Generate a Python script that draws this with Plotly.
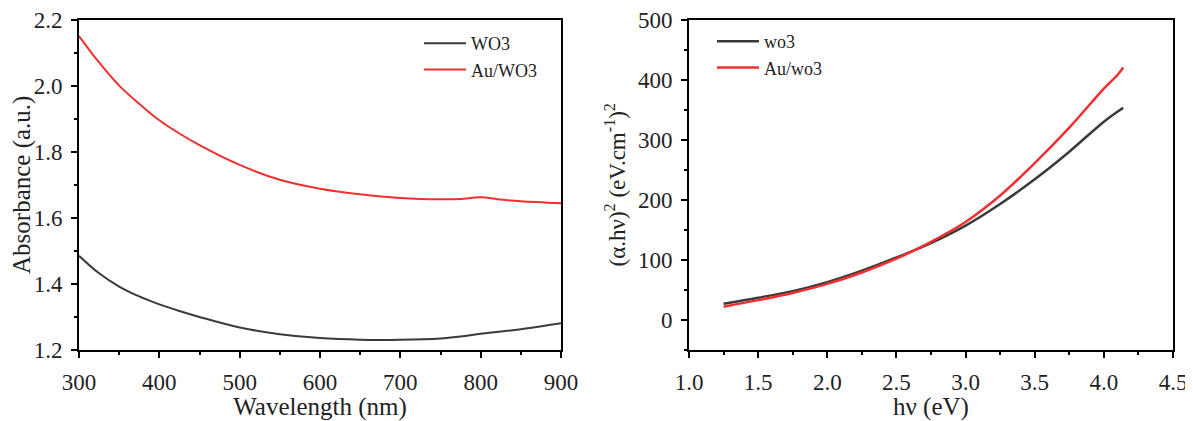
import plotly.graph_objects as go

# Left panel: UV-Vis absorbance
wavelength = [300, 325, 350, 375, 400, 425, 450, 500, 550, 600, 650, 700, 750, 775, 800, 825, 850, 900]
abs_wo3 = [1.485, 1.432, 1.392, 1.362, 1.338, 1.318, 1.300, 1.268, 1.248, 1.236, 1.231, 1.231, 1.235, 1.241, 1.249, 1.256, 1.263, 1.281]
abs_au_wo3 = [2.150, 2.070, 2.000, 1.945, 1.895, 1.855, 1.820, 1.760, 1.715, 1.688, 1.671, 1.660, 1.656, 1.657, 1.662, 1.655, 1.650, 1.644]

# Right panel: Tauc plot
hv = [1.25, 1.5, 1.75, 2.0, 2.25, 2.5, 2.75, 3.0, 3.25, 3.5, 3.75, 4.0, 4.1, 4.14]
tauc_wo3 = [27, 37, 48, 63, 82, 104, 128, 157, 193, 234, 280, 330, 347, 353]
tauc_au_wo3 = [22, 33, 45, 60, 79, 102, 130, 163, 207, 261, 320, 385, 408, 420]

FONT = "Liberation Serif"
TXT = "#222222"
BLACK_LINE = "#3a3a3a"
RED_LINE = "#f03030"

# the page body adds an 8 px offset, so the figure is 8 px smaller
W, H = 1185, 413

fig = go.Figure()
fig.add_trace(go.Scatter(x=wavelength, y=abs_wo3, mode="lines", name="WO3",
                         line=dict(color=BLACK_LINE, width=2, shape="spline"),
                         xaxis="x", yaxis="y", legend="legend"))
fig.add_trace(go.Scatter(x=wavelength, y=abs_au_wo3, mode="lines", name="Au/WO3",
                         line=dict(color=RED_LINE, width=2, shape="spline"),
                         xaxis="x", yaxis="y", legend="legend"))
fig.add_trace(go.Scatter(x=hv, y=tauc_wo3, mode="lines", name="wo3",
                         line=dict(color=BLACK_LINE, width=2.5, shape="spline"),
                         xaxis="x2", yaxis="y2", legend="legend2"))
fig.add_trace(go.Scatter(x=hv, y=tauc_au_wo3, mode="lines", name="Au/wo3",
                         line=dict(color=RED_LINE, width=2.5, shape="spline"),
                         xaxis="x2", yaxis="y2", legend="legend2"))

ax_common = dict(showline=True, linecolor="black", linewidth=2, mirror=True,
                 ticks="outside", ticklen=6, tickwidth=2, tickcolor="black",
                 showgrid=False, zeroline=False, automargin=False,
                 ticklabelstandoff=4, ticklabeloverflow="allow",
                 tickfont=dict(family=FONT, size=23, color=TXT))
ydom = [1 - 342 / H, 1 - 11.5 / H]

fig.update_layout(
    width=W, height=H,
    margin=dict(l=0, r=0, t=0, b=0, autoexpand=False),
    paper_bgcolor="white", plot_bgcolor="white",
    showlegend=True,
    xaxis=dict(domain=[71 / W, 553 / W], range=[300, 900], dtick=100,
               anchor="y",
               minor=dict(ticks="outside", ticklen=3, tickwidth=2, dtick=50, tickcolor="black"),
               title=dict(text="Wavelength (nm)", font=dict(family=FONT, size=25, color=TXT), standoff=6),
               **ax_common),
    yaxis=dict(domain=ydom, range=[1.2, 2.2], dtick=0.2, tickformat=".1f",
               anchor="x",
               minor=dict(ticks="outside", ticklen=3, tickwidth=2, dtick=0.1, tickcolor="black"),
               title=dict(text="Absorbance (a.u.)", font=dict(family=FONT, size=25, color=TXT), standoff=6),
               **ax_common),
    xaxis2=dict(domain=[681 / W, 1165 / W], range=[1.0, 4.5], dtick=0.5, tickformat=".1f",
                anchor="y2",
                minor=dict(ticks="outside", ticklen=3, tickwidth=2, dtick=0.25, tickcolor="black"),
                title=dict(text="hν (eV)", font=dict(family=FONT, size=25, color=TXT), standoff=6),
                **ax_common),
    yaxis2=dict(domain=ydom, range=[-50, 500], dtick=100,
                anchor="x2",
                minor=dict(ticks="outside", ticklen=3, tickwidth=2, dtick=50, tickcolor="black"),
                title=dict(text="(α.hν)<sup>2</sup> (eV.cm<sup>-1</sup>)<sup>2</sup>",
                           font=dict(family=FONT, size=23, color=TXT), standoff=6),
                **ax_common),
    legend=dict(x=411 / W, y=1 - 17 / H, xanchor="left", yanchor="top",
                bgcolor="rgba(0,0,0,0)", font=dict(family=FONT, size=18, color=TXT),
                tracegroupgap=0, itemwidth=42),
    legend2=dict(x=704 / W, y=1 - 15 / H, xanchor="left", yanchor="top",
                 bgcolor="rgba(0,0,0,0)", font=dict(family=FONT, size=18, color=TXT),
                 tracegroupgap=0, itemwidth=42),
)

fig.write_html("out.html")
